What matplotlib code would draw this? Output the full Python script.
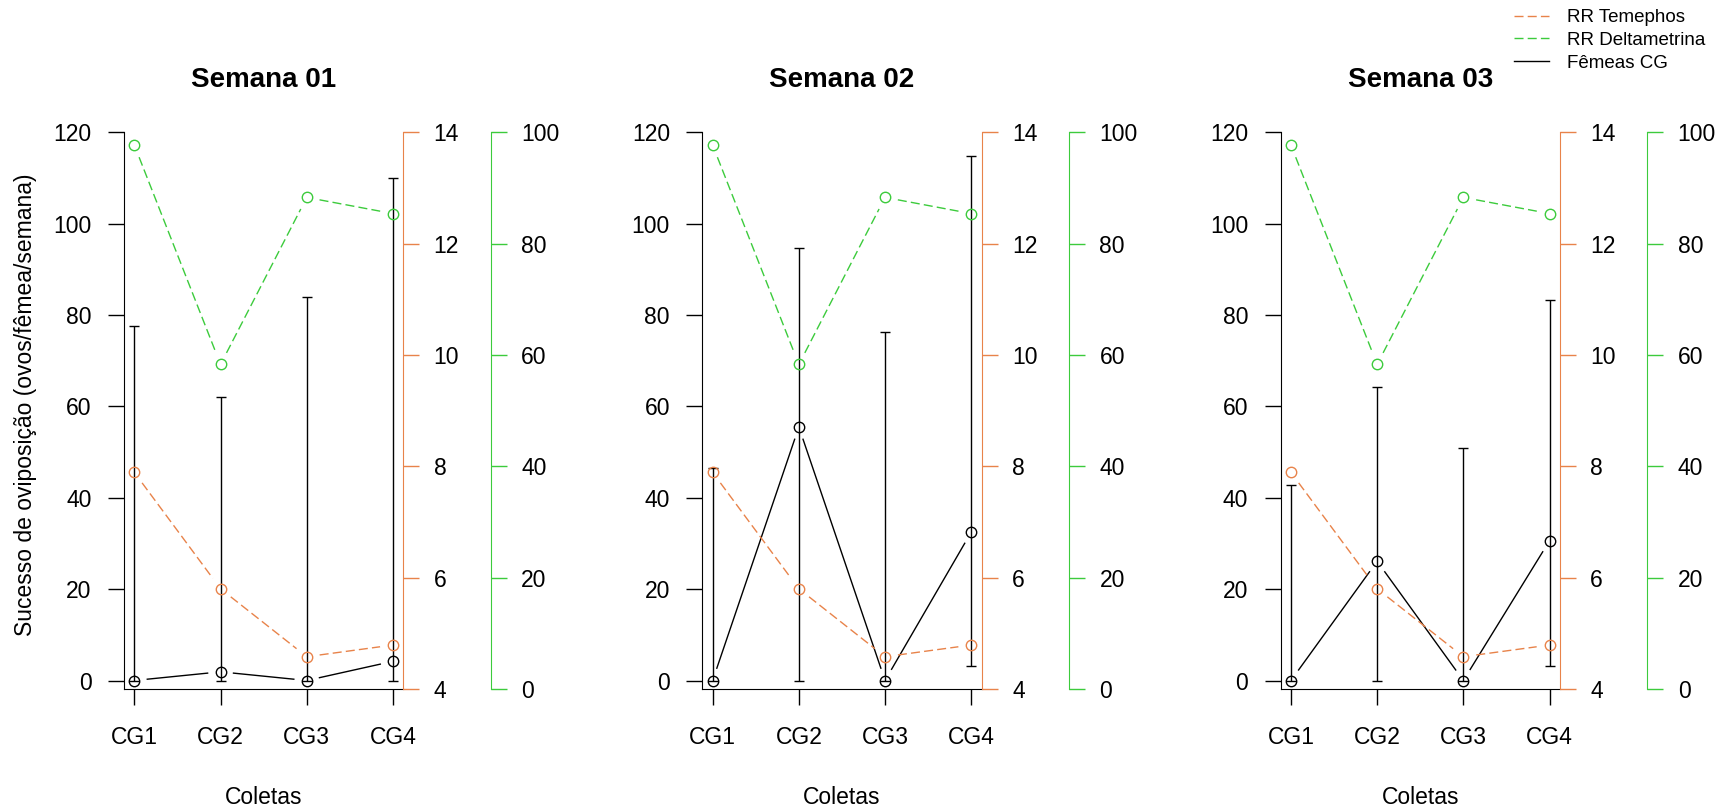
import numpy as np
import matplotlib.pyplot as plt
from matplotlib.lines import Line2D

plt.rcParams['font.family'] = ['Liberation Sans', 'DejaVu Sans']

coletas = ['CG1', 'CG2', 'CG3', 'CG4']
semanas = ['Semana 01', 'Semana 02', 'Semana 03']

# oviposicao media das femeas e limites das barras de erro, por semana
femeas_media = [[0, 1.9, 0, 4.2], [0, 55.5, 0, 32.5], [0, 26.1, 0, 30.6]]
femeas_sup = [[77.5, 62, 83.9, 110], [46.5, 94.7, 76.2, 114.8], [42.7, 64.2, 51.0, 83.3]]
femeas_inf = [[0, 0, 0, 0], [0, 0, 0, 3.1], [0, 0, 0, 3.1]]

# razoes de resistencia (iguais nas tres semanas)
rr_temephos = [7.89, 5.80, 4.58, 4.79]
rr_delta = [97.7, 58.3, 88.3, 85.4]

laranja = '#E8834A'
verde = '#3CCB3C'
tracejado = (0, (6.5, 3))

W, H = 1735, 811
fig = plt.figure(figsize=(W / 100, H / 100), dpi=100)

x = np.arange(1, 5)
FS = 16.5


def linha_b(ax, xs, ys, cor, estilo, gap=13):
    # pontos abertos ligados por segmentos que param antes dos circulos
    ax.plot(xs, ys, 'o', ms=7.5, mfc='none', mec=cor, mew=1, zorder=4)
    px = ax.transData.transform(np.column_stack([xs, ys]))
    inv = ax.transData.inverted()
    for p, q in zip(px[:-1], px[1:]):
        d = q - p
        n = np.hypot(*d)
        if n <= 2 * gap:
            continue
        seg = inv.transform([p + d / n * gap, q - d / n * gap])
        ax.plot(seg[:, 0], seg[:, 1], color=cor, lw=1, ls=estilo, zorder=3)


ax_w = 279.3
ax_h = 689 - 132.3
for i, nome in enumerate(semanas):
    left = 124 + i * 578.3
    ax = fig.add_axes([left / W, (H - 689) / H, ax_w / W, ax_h / H])
    ax.set_xlim(0.88, 4.12)
    ax.set_ylim(-1.86, 120)
    ax.set_xticks(x)
    ax.set_xticklabels(coletas)
    ax.set_yticks(range(0, 121, 20))
    ax.spines['top'].set_visible(False)
    ax.spines['right'].set_visible(False)
    ax.tick_params(axis='y', length=11.3, width=1, pad=12, labelsize=FS)
    ax.tick_params(axis='x', length=11.5, width=1, pad=15.4, labelsize=FS)

    ax2 = ax.twinx()
    ax2.set_ylim(4, 14)
    ax2.set_yticks(range(4, 15, 2))
    for s in ['top', 'left', 'bottom']:
        ax2.spines[s].set_visible(False)
    ax2.spines['right'].set_color(laranja)
    ax2.tick_params(axis='y', colors=laranja, labelcolor='black', length=11.3,
                    width=1, pad=10.6, labelsize=FS)

    ax3 = ax.twinx()
    ax3.set_ylim(0, 100)
    ax3.set_yticks(range(0, 101, 20))
    for s in ['top', 'left', 'bottom']:
        ax3.spines[s].set_visible(False)
    ax3.spines['right'].set_position(('axes', 1 + 87.4 / ax_w))
    ax3.spines['right'].set_color(verde)
    ax3.tick_params(axis='y', colors=verde, labelcolor='black', length=11.3,
                    width=1, pad=10.6, labelsize=FS)

    media = np.array(femeas_media[i])
    erro = [media - np.array(femeas_inf[i]), np.array(femeas_sup[i]) - media]
    ax.errorbar(x, media, yerr=erro, fmt='none', ecolor='black', elinewidth=1,
                capsize=3.3, capthick=1, zorder=2)
    linha_b(ax, x, media, 'black', '-')
    linha_b(ax2, x, rr_temephos, laranja, tracejado)
    linha_b(ax3, x, rr_delta, verde, tracejado)

    ax.set_title(nome, fontsize=20, fontweight='bold', pad=32.6)
    ax.text(0.5, -(804 - 689) / ax_h, 'Coletas', transform=ax.transAxes,
            ha='center', va='baseline', fontsize=FS)

fig.text(26 / W, 1 - 405 / H, 'Sucesso de oviposição (ovos/fêmea/semana)',
         rotation=90, ha='center', va='center', fontsize=FS)

handles = [Line2D([], [], color=laranja, lw=1, ls=tracejado),
           Line2D([], [], color=verde, lw=1, ls=tracejado),
           Line2D([], [], color='black', lw=1)]
fig.legend(handles, ['RR Temephos', 'RR Deltametrina', 'Fêmeas CG'],
           loc='upper left', bbox_to_anchor=(1514 / W, 1 - 9 / H),
           frameon=False, fontsize=13.5, handlelength=1.87, handletextpad=0.96,
           borderpad=0, borderaxespad=0, labelspacing=0.3)

fig.savefig('out.png', dpi=100)
